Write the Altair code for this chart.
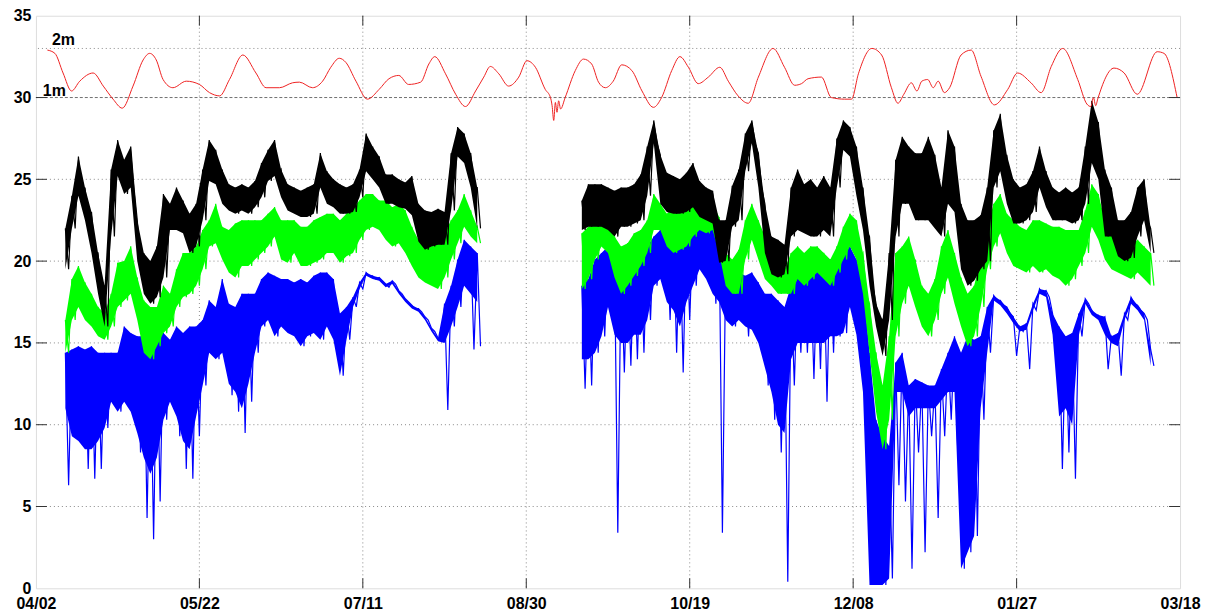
import altair as alt
import pandas as pd

# ---------------- data ----------------
tick_days = [0, 50, 100, 150, 200, 250, 300, 350]          # days since 04/02
tick_labels = ["04/02", "05/22", "07/11", "08/30", "10/19", "12/08", "01/27", "03/18"]
y_ticks = [0, 5, 10, 15, 20, 25, 30, 35]

seg1_days = list(range(9, 136, 2))     # first record, every 2 days
seg2_days = list(range(167, 342, 2))   # second record, every 2 days

black1_hi = [22, 24, 26.4, 24.5, 23, 20.5, 18.5, 25.6,
             27.4, 26.2, 27, 22.5, 20.5, 20, 20.9, 24.1,
             23.5, 24.5, 23.7, 22.9, 23.5, 25.6, 27.4, 26.8,
             25.6, 24.7, 24.5, 24.7, 24.5, 24.9, 26, 26.8,
             27.4, 25.6, 24.7, 24.5, 24.3, 24.5, 24.7, 26.6,
             25.5, 25, 24.7, 24.5, 24.7, 25.6, 27.8, 27,
             26.4, 25.3, 25.3, 25, 24.8, 25.2, 23.5, 23.1,
             23, 23.2, 23, 26.6, 28.2, 27.8, 26.6, 24.5]
black1_lo = [19.5, 22, 24, 22.5, 20.5, 18, 16, 21.5,
             25.2, 24.1, 24.5, 20, 18, 17.4, 17.8, 19,
             21.9, 21.9, 21.7, 20.5, 20.9, 22.5, 24.9, 24.7,
             23.5, 23.1, 22.9, 23.1, 22.9, 23.3, 23.9, 24.9,
             25.2, 23.9, 23.1, 22.9, 22.7, 22.7, 22.9, 24.5,
             23.5, 23.3, 22.9, 22.9, 23, 23.9, 25.5, 25,
             24.5, 23.5, 23.5, 23.3, 23.2, 22.8, 21.2, 20.7,
             20.9, 21, 21, 23.1, 26.4, 26, 24.5, 22]
green1_hi = [16.4, 18.9, 19.7, 18.7, 18, 17.2, 16.8, 18,
             19.9, 20, 20.9, 19, 17.6, 17.2, 17.2, 18.5,
             18, 19.5, 20.5, 20.5, 20.9, 21.9, 22.5, 23.5,
             22.1, 21.9, 22.3, 22.5, 22.5, 22.5, 22.5, 22.9,
             23.3, 22.5, 22.5, 22.5, 22.1, 22.1, 22.5, 22.7,
             22.9, 22.9, 22.5, 22.9, 23.3, 23.7, 24.1, 24.1,
             23.7, 23.7, 23.3, 23.5, 23.1, 22.1, 21.3, 20.9,
             20.9, 21.1, 21.7, 22.5, 23.1, 24.1, 23.1, 22.1]
green1_lo = [14.4, 16.4, 17.2, 16.4, 16, 15.4, 15.2, 16,
             17.2, 17.6, 18, 16.4, 14.4, 14, 14.8, 15.6,
             16, 17.2, 17.8, 18, 18.5, 19.5, 20.9, 21.1,
             20.1, 19.3, 19, 19.7, 19.7, 20.1, 20.5, 20.9,
             21.5, 20.1, 19.9, 20.5, 19.7, 19.7, 19.9, 20.1,
             20.5, 20.5, 19.9, 20.3, 20.5, 21.3, 21.9, 22.1,
             21.9, 21.3, 20.9, 21.1, 20.5, 19.7, 19, 18.7,
             18.5, 18.3, 19, 20.1, 21.1, 22.1, 21.5, 21.1]
blue1_hi = [14.4, 14.6, 14.8, 14.6, 14.8, 14.4, 14.4, 14.4,
            14.4, 16, 15.6, 15.4, 15.4, 14.8, 15.4, 15.6,
            15.2, 16, 15.6, 16, 16, 16.4, 17.6, 17.2,
            18.9, 17.4, 17.2, 18, 18, 18, 18.9, 19.3,
            19.1, 18.9, 18.9, 18.7, 18.9, 18.7, 19.1, 19.3,
            19.3, 18.9, 16.8, 17.2, 17.8, 18.7, 19.3, 19.1,
            19.0, 18.6, 18.8, 18.2, 17.7, 17.3, 17.1, 16.6,
            15.9, 15.3, 17.4, 18.5, 20.1, 21.3, 20.9, 20.5]
blue1_lo = [11, 9.3, 9, 8.5, 8.5, 9, 9.8, 11.4,
            10.8, 11.4, 10.8, 9.5, 8, 7, 8, 10.3,
            11.4, 10.5, 9, 8.5, 10.5, 12.4, 14.4, 14,
            14.4, 12.5, 12, 11, 12.5, 14.4, 16, 16.4,
            15.4, 16, 15.6, 15.4, 14.8, 15.4, 15.6, 15.2,
            16, 15.2, 13, 15.2, 17.2, 18.3, 19.1, 18.9,
            18.8, 18.4, 18.6, 18.0, 17.5, 17.1, 16.9, 16.4,
            15.7, 15.1, 15, 16, 17.2, 18.5, 18, 17.5]

black2_hi = [23.7, 24.7, 24.7, 24.7, 24.5, 24.3, 24.5, 24.5,
             24.7, 25.3, 27, 28.6, 26.5, 25.4, 25.2, 25,
             25.4, 26, 24.9, 24.5, 24.3, 22.5, 22.5, 24.6,
             25.6, 27.8, 28.6, 26.6, 23.5, 21.5, 21.3, 21,
             24.5, 25.6, 24.7, 25, 24.5, 25.2, 24.5, 27.5,
             28.6, 28.2, 27, 24.5, 21.5, 17.4, 16.4, 20.5,
             26.2, 27.6, 27, 26.6, 26.6, 27.6, 26.5, 24.5,
             28, 27, 23.5, 22.5, 22.5, 22.8, 24.5, 28,
             29, 26.5, 25, 24.5, 24.7, 25.5, 27, 25.5,
             24.5, 24.2, 24.5, 24.2, 24.5, 27, 29.8, 28.5,
             25.6, 24.5, 22.5, 22.5, 23, 24.5, 25, 22]
black2_lo = [21.9, 22.1, 22.1, 22.1, 21.9, 21.5, 22.1, 22.1,
             22.3, 22.5, 24, 27.2, 23.5, 23, 22.9, 22.9,
             23, 23.3, 22.7, 22.5, 22.3, 19.9, 20, 22.1,
             22.5, 25.5, 27.2, 24.5, 20.5, 19.2, 19, 19.2,
             21.5, 21.9, 21.7, 21.5, 21.5, 21.9, 21.5, 24.5,
             26.8, 26.4, 24, 21.9, 18.5, 16, 14.2, 16.4,
             21.5, 23.5, 23.5, 22.5, 22.5, 22.5, 22, 21.5,
             23.5, 23, 19.5, 18.5, 18.8, 19.5, 20, 24.5,
             25.5, 23.5, 22.3, 22.3, 22.5, 23, 24.5, 23.3,
             22.5, 22.5, 22.5, 22.3, 22.5, 23.5, 26, 25,
             21.5, 21.5, 20.3, 20, 20.2, 21.5, 22.5, 20.5]
green2_hi = [21.7, 22.1, 22.5, 22.3, 22.1, 21.5, 20.9, 21.1,
             21.7, 21.9, 22.5, 24.1, 23.5, 22.9, 23.3, 23.3,
             23.7, 23.9, 24.1, 23.9, 23.5, 22.7, 20.5, 20.1,
             20.7, 22.5, 23.5, 22.5, 21.5, 20.5, 19.7, 19.5,
             20.5, 20.9, 20.5, 20.9, 20.9, 20.5, 20.1, 20.9,
             22.1, 22.9, 22.5, 20.5, 17.4, 14.4, 12.4, 15.4,
             20.5, 20.9, 21.5, 20.1, 18.5, 18, 18.9, 20.9,
             21.9, 20.5, 19, 18, 18.5, 20.1, 22.1, 23.5,
             24.1, 22.9, 22.5, 22.1, 21.9, 22.5, 22.5, 22.3,
             22.1, 22.1, 21.9, 21.9, 21.9, 23.1, 24.7, 24.1,
             22.5, 21.9, 21.5, 21.1, 20.9, 21.3, 20.9, 20.5]
green2_lo = [18.3, 18.9, 20.1, 20.9, 20.5, 19, 18, 18.5,
             19.1, 19.7, 20.5, 21.9, 21.9, 20.9, 20.5, 20.7,
             20.9, 21.5, 21.9, 21.7, 21.9, 20.5, 18.5, 18,
             18, 20.1, 21.3, 20.1, 18.9, 18.5, 18, 18,
             18, 18.9, 18.5, 18.9, 19.3, 18.9, 18.5, 19.3,
             20.1, 20.9, 20.1, 18, 14.4, 10.8, 8.5, 10.3,
             15.4, 17.4, 18.5, 17.2, 16, 15.4, 16.4, 18,
             19, 17.4, 16, 14.8, 15.4, 17.2, 19.5, 20.9,
             21.7, 20.5, 19.7, 19.5, 19.3, 19.7, 19.3, 19.5,
             19.1, 18.9, 18.5, 18.9, 19.7, 20.5, 22.1, 21.3,
             20.1, 19.5, 19.3, 19.1, 18.9, 19.3, 18.9, 18.5]
blue2_hi = [18.5, 18.9, 20.1, 20.5, 20.9, 20.1, 19.9, 19.7,
            20.1, 20.5, 20.9, 21.5, 21.9, 21.9, 21.9, 21.9,
            22.1, 22.1, 22.9, 22.9, 22.5, 21.9, 19.9, 19.5,
            19.3, 19.1, 19.3, 18.7, 18, 18, 17.6, 17.2,
            18.5, 18.9, 19.3, 19.3, 19.5, 20.3, 20.1, 19.9,
            20.5, 20.9, 20.1, 18.9, 14.4, 10.3, 9.3, 8.7,
            13.8, 14.4, 12.4, 12.8, 12.6, 12.4, 12.4, 13.4,
            14.4, 15.4, 14.4, 15.4, 15.2, 15.4, 17.2, 17.9,
            17.6, 17.2, 16.6, 16.0, 16.2, 17.4, 18.3, 18.2,
            16.8, 16, 15.4, 15.6, 16.8, 17.7, 17.0, 16.7,
            16.6, 15.4, 15.6, 16.8, 17.8, 17.3, 16.8, 14.6]
blue2_lo = [14, 14, 14.4, 15.4, 17.2, 15.5, 15, 15,
            15.5, 15.5, 16.4, 18.5, 18.9, 17.5, 17, 16,
            17.5, 18.5, 19.5, 18.9, 18, 17.5, 16.4, 16,
            16.4, 16, 15.8, 15, 13.5, 12, 10, 9.5,
            14, 15, 15, 15, 15, 15, 15.4, 15.4,
            15.6, 17.2, 15.5, 12, 0.2, 0.2, 0.2, 0.6,
            12, 12, 10.5, 11, 11, 11, 11, 11.5,
            12, 12, 1.2, 2.2, 3.2, 11, 14.4, 17.6,
            17.3, 16.8, 16.2, 15.7, 15.8, 17.0, 18.0, 17.8,
            15.5, 10.5, 11, 10, 15.4, 17.4, 16.7, 16.4,
            15.5, 15.0, 14.8, 16.4, 17.4, 17.0, 16.4, 13.6]

# isolated downward spikes of the blue record (day, value)
blue_spike_days = [10, 16, 18, 20, 32, 34, 36, 38, 44, 46, 48, 50, 60, 62, 64, 66, 126, 134, 136,
                   168, 170, 178, 180, 182, 184, 186, 194, 196, 198, 200, 208, 210, 218, 222,
                   224, 226, 228, 230, 232, 234, 236, 238, 240, 242, 244, 252, 254, 264, 266,
                   268, 270, 272, 274, 276, 278, 280, 282, 290, 300, 304, 312, 314, 316, 318,
                   328, 332]
blue_spike_vals = [6.3, 7.3, 6.7, 7.3, 8.3, 4.3, 3.0, 5.3, 9.3, 7.3, 6.7, 9.3, 11.8, 10.8, 9.5, 11.4,
                   10.9, 14.6, 14.8,
                   12.2, 12.4, 3.4, 13.2, 13.6, 14, 14.4, 16.4, 14.4, 13.2, 16.4, 17.4, 3.4, 15.4,
                   14.4, 12.4, 10.3, 8.3, 0.4, 12.4, 14.4, 14.4, 12.8, 13.4, 11.4, 14.4, 14.4,
                   8.3, 6.3, 5.3, 1.2, 8.3, 2.2, 9.3, 4.3, 9.3, 10.3, 8.3, 10.3, 14.2, 13.4,
                   14.2, 7.3, 8.3, 6.7, 13.4, 13.0]

red_days = [3.5, 5.8, 8.3, 10.9, 13.4, 17.5, 20.6, 23.6, 26.4, 29.7, 32.8, 34.8, 36.8,
            38.9, 41.9, 46, 50, 53.1, 56.2, 59.2, 63.3, 67.3, 70.4, 74.5, 78.5,
            80.6, 84.6, 87.7, 90.2, 92.8, 94.8, 97.9, 101.4, 105, 108, 111, 114,
            117.7, 120.2, 122, 125.3, 128.4, 131.4, 134.5, 137, 139, 141.6, 144.6,
            147.7, 150.2, 152.8, 155.8, 157.4, 157.9, 158.4, 158.9, 159.4, 159.9,
            160.5, 161.9, 165, 167.5, 170, 172.1, 174.2, 176.6, 179.2, 182.3, 185.4,
            188.9, 191.4, 194.5, 197, 199.6, 202.6, 205.7, 209.2, 211.8, 214.8,
            217.9, 221, 225.5, 229, 232.1, 234.2, 236.2, 240.3, 243.3, 247.4, 249.5,
            251.6, 255.7, 258.7, 261.7, 263.7, 265.5, 267.8, 269.5, 271, 272.8,
            274.5, 276, 277.9, 279.5, 283, 286.1, 289.1, 293.2, 297.3, 300.3, 304.4,
            307.5, 310.6, 314.1, 318.7, 321.5, 322.7, 323.5, 324.2, 324.8, 329.8,
            332.9, 336.9, 343, 345.1, 349.1]
red_vals = [32.9, 32.7, 31.5, 30.4, 31.0, 31.5, 30.7, 29.9, 29.35, 30.7, 32.3, 32.7, 32.3,
            31.1, 30.6, 31.0, 30.8, 30.3, 30.1, 31.1, 32.6, 31.5, 30.6, 30.6, 30.9,
            30.94, 30.6, 31.0, 31.85, 32.4, 32.15, 31.0, 29.9, 30.5, 31.15, 31.35, 30.8,
            30.94, 32.05, 32.5, 31.45, 30.2, 29.45, 30.4, 31.25, 31.9, 31.45, 30.7,
            31.25, 32.25, 31.85, 30.5, 30.0, 29.5, 28.6, 29.7, 29.1, 29.8,
            29.3, 30.0, 31.65, 32.35, 32.05, 30.94, 30.6, 31.0, 32.0, 31.65, 30.4,
            29.4, 30.0, 31.65, 32.5, 31.85, 30.85, 31.25, 31.85, 31.0, 30.1,
            29.65, 31.25, 33.0, 31.85, 30.75, 30.85, 31.15, 31.25, 30.0, 29.9, 29.9,
            31.45, 33.0, 32.6, 30.6, 29.65, 30.2, 30.9, 30.4, 31.0, 31.1,
            30.6, 31.0, 30.3, 30.6, 32.6, 32.9, 31.3, 29.55, 30.5, 31.5, 30.9,
            30.3, 31.9, 33.0, 31.1, 29.6, 29.45, 30.0, 29.5, 29.9, 31.8,
            31.5, 30.2, 32.8, 32.7, 30.0]

ref_labels = ["2m", "1m"]
ref_days = [4.9, 2.1]
ref_vals = [33.2, 30.1]

# ---------------- tables ----------------
def zigzag(segments, spikes=None):
    spikes = spikes or {}
    rows = []
    for seg, (days, hi, lo) in enumerate(segments):
        for d, h, l in zip(days, hi, lo):
            rows.append({"seg": seg, "day": d, "val": h})
            rows.append({"seg": seg, "day": d + 1, "val": spikes.get(d + 1, l)})
    return pd.DataFrame(rows)

def band(segments):
    rows = []
    for seg, (days, hi, lo) in enumerate(segments):
        for d, h, l in zip(days, hi, lo):
            rows.append({"seg": seg, "day": d, "hi": h, "lo": l})
    return pd.DataFrame(rows)

black_segs = [(seg1_days, black1_hi, black1_lo), (seg2_days, black2_hi, black2_lo)]
green_segs = [(seg1_days, green1_hi, green1_lo), (seg2_days, green2_hi, green2_lo)]
blue_segs = [(seg1_days, blue1_hi, blue1_lo), (seg2_days, blue2_hi, blue2_lo)]
blue_spikes = dict(zip(blue_spike_days, blue_spike_vals))
red_df = pd.DataFrame({"day": red_days, "val": red_vals})
ref_df = pd.DataFrame({"label": ref_labels, "day": ref_days, "val": ref_vals})

W, H = 1147, 574
FONT = "Liberation Sans"

label_arr = "[" + ",".join("'%s'" % t for t in tick_labels) + "]"
X_AX = alt.Axis(values=tick_days, labelExpr=label_arr + "[round(datum.value/50)]",
                title=None, domain=False, ticks=False, grid=False,
                labelFont=FONT, labelFontSize=16, labelFontWeight="bold",
                labelColor="black", labelPadding=7, labelOverlap=False,
                labelBound=False, labelFlush=False)
Y_AX = alt.Axis(values=y_ticks, title=None, domain=False, ticks=False, grid=False,
                labelFont=FONT, labelFontSize=16, labelFontWeight="bold",
                labelColor="black", labelPadding=5, labelOverlap=False,
                labelBound=False, labelFlush=False)
xs = alt.Scale(domain=[0, 350], nice=False, zero=False)
ys = alt.Scale(domain=[0, 35], nice=False, zero=False)

def X(f="day"):
    return alt.X(f + ":Q", scale=xs, axis=X_AX)

def Y(f="val"):
    return alt.Y(f + ":Q", scale=ys, axis=Y_AX)

xgrid_df = pd.DataFrame({"day": tick_days[1:-1]})
ygrid_df = pd.DataFrame({"val": [v for v in y_ticks[1:-1] if v != 30] + [33]})
y30_df = pd.DataFrame({"val": [30]})
ytick_df = pd.DataFrame({"val": y_ticks[1:-1]})

grid_style = dict(color="#8a8a8a", strokeDash=[1, 3], strokeWidth=1)
xgrid = alt.Chart(xgrid_df).mark_rule(**grid_style).encode(x=X())
ygrid = alt.Chart(ygrid_df).mark_rule(**grid_style).encode(y=Y())
y30 = alt.Chart(y30_df).mark_rule(color="#707070", strokeDash=[3, 2], strokeWidth=1).encode(y=Y())

tick_style = dict(color="#333333", strokeWidth=1)
tb = alt.Chart(xgrid_df).mark_rule(**tick_style).encode(x=X(), y=alt.value(H - 10), y2=alt.value(H))
tt = alt.Chart(xgrid_df).mark_rule(**tick_style).encode(x=X(), y=alt.value(0), y2=alt.value(10))
tl = alt.Chart(ytick_df).mark_rule(**tick_style).encode(y=Y(), x=alt.value(0), x2=alt.value(11))
tr = alt.Chart(ytick_df).mark_rule(**tick_style).encode(y=Y(), x=alt.value(W - 11), x2=alt.value(W))

def series(segs, color, spikes=None):
    area = alt.Chart(band(segs)).mark_area(color=color, opacity=1, interpolate="linear").encode(
        x=X(), y=Y("hi"), y2="lo:Q", detail="seg:N")
    line = alt.Chart(zigzag(segs, spikes)).mark_line(color=color, strokeWidth=1.2,
                                                     interpolate="linear").encode(
        x=X(), y=Y(), detail="seg:N")
    return [area, line]

blue = series(blue_segs, "#0000ff", blue_spikes)
green = series(green_segs, "#00ff00")
black = series(black_segs, "#000000")
red = alt.Chart(red_df).mark_line(color="#ee2222", strokeWidth=1, interpolate="monotone").encode(
    x=X(), y=Y())

ref_text = alt.Chart(ref_df).mark_text(font=FONT, fontSize=16, fontWeight="bold",
                                       align="left", baseline="alphabetic", color="black").encode(
    x=X(), y=Y(), text="label:N")

chart = alt.layer(xgrid, ygrid, y30, *blue, *green, *black, red, ref_text, tb, tt, tl, tr).properties(
    width=W, height=H,
    autosize=alt.AutoSizeParams(type="none"),
    padding={"left": 28, "top": 7, "right": 24, "bottom": 23},
).configure_view(stroke="#333333", strokeWidth=1).configure(background="white")

chart.save("out.html", embed_options={"renderer": "svg", "actions": False})
